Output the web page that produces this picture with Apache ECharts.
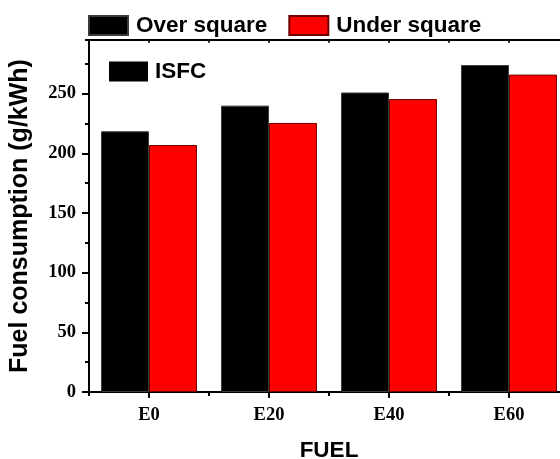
<!DOCTYPE html>
<html>
<head>
<meta charset="utf-8">
<script src="https://cdn.jsdelivr.net/npm/echarts@6/dist/echarts.min.js"></script>
<style>
  html, body { margin: 0; padding: 0; background: #fff; }
  #chart { width: 560px; height: 459px; }
</style>
</head>
<body>
<div id="chart"></div>
<script>
// Indicated specific fuel consumption per fuel blend
const fuels = ['E0', 'E20', 'E40', 'E60'];
const overSquare = [218.5, 240, 251, 274];
const underSquare = [207, 225.5, 245.5, 266];
const yMax = 295;

const sans = 'Arial, "Liberation Sans", sans-serif';
const serif = '"Times New Roman", "Liberation Serif", serif';

const chart = echarts.init(document.getElementById('chart'), null, { renderer: 'canvas' });

const hiddenCat = {
  type: 'category',
  data: fuels,
  boundaryGap: true,
  axisLabel: { show: false },
  splitLine: { show: false }
};

chart.setOption({
  animation: false,
  backgroundColor: '#fff',
  grid: { left: 89, top: 40, width: 480, height: 352, containLabel: false, outerBoundsMode: 'none' },
  legend: {
    left: 83,
    top: 9,
    itemWidth: 39,
    itemHeight: 19,
    itemGap: 21,
    icon: 'rect',
    data: ['Over square', 'Under square'],
    textStyle: { fontFamily: sans, fontWeight: 'bold', fontSize: 22.5, color: '#000', padding: [0, 0, 0, 3] }
  },
  xAxis: [
    {
      type: 'category',
      data: fuels,
      position: 'bottom',
      name: 'FUEL',
      nameLocation: 'middle',
      nameGap: 47,
      nameTextStyle: { fontFamily: sans, fontWeight: 'bold', fontSize: 22.5, color: '#000' },
      axisLine: { show: true, lineStyle: { color: '#000', width: 2 } },
      axisTick: { show: true, alignWithLabel: true, inside: false, length: 6, lineStyle: { color: '#000', width: 2 } },
      axisLabel: { fontFamily: serif, fontWeight: 'bold', fontSize: 18.5, color: '#000', margin: 14 },
      splitLine: { show: false }
    },
    Object.assign({}, hiddenCat, {
      position: 'bottom',
      axisLine: { show: false },
      axisTick: { show: true, inside: false, length: 4, lineStyle: { color: '#000', width: 2 } }
    }),
    Object.assign({}, hiddenCat, {
      position: 'top',
      axisLine: { show: true, lineStyle: { color: '#000', width: 2 } },
      axisTick: { show: true, inside: true, length: 3, lineStyle: { color: '#000', width: 1.5 } }
    }),
    Object.assign({}, hiddenCat, {
      position: 'top',
      axisLine: { show: false },
      axisTick: { show: true, inside: true, alignWithLabel: true, length: 3, lineStyle: { color: '#000', width: 1.5 } }
    })
  ],
  yAxis: [
    {
      type: 'value',
      min: 0,
      max: yMax,
      interval: 50,
      name: 'Fuel consumption (g/kWh)',
      nameLocation: 'middle',
      nameGap: 56,
      nameTextStyle: { fontFamily: sans, fontWeight: 'bold', fontSize: 25, color: '#000' },
      axisLine: { show: true, lineStyle: { color: '#000', width: 2 } },
      axisTick: { show: true, inside: false, length: 7, lineStyle: { color: '#000', width: 2 } },
      axisLabel: {
        fontFamily: serif, fontWeight: 'bold', fontSize: 18.5, color: '#000', margin: 13,
        showMaxLabel: false,
        formatter: v => (v % 50 === 0 ? String(v) : '')
      },
      splitLine: { show: false }
    },
    {
      type: 'value',
      min: 0,
      max: yMax,
      interval: 25,
      position: 'left',
      axisLine: { show: false },
      axisTick: { show: true, inside: false, length: 4, lineStyle: { color: '#000', width: 2 } },
      axisLabel: { show: false },
      splitLine: { show: false }
    }
  ],
  series: [
    {
      name: 'Over square',
      type: 'bar',
      data: overSquare,
      barGap: '0%',
      barCategoryGap: '20%',
      itemStyle: { color: '#000000', borderColor: '#3a3a3a', borderWidth: 1 }
    },
    {
      name: 'Under square',
      type: 'bar',
      data: underSquare,
      barGap: '0%',
      barCategoryGap: '20%',
      itemStyle: { color: '#ff0000', borderColor: '#6e0000', borderWidth: 1 }
    }
  ],
  graphic: [
    {
      type: 'group',
      left: 109,
      top: 60,
      children: [
        { type: 'rect', shape: { x: 0, y: 0, width: 39, height: 20 }, style: { fill: '#000' } },
        {
          type: 'text',
          x: 46,
          y: 10,
          style: { text: 'ISFC', fill: '#000', font: 'bold 22.5px ' + sans, textVerticalAlign: 'middle', verticalAlign: 'middle' }
        }
      ]
    }
  ]
});
</script>
</body>
</html>
